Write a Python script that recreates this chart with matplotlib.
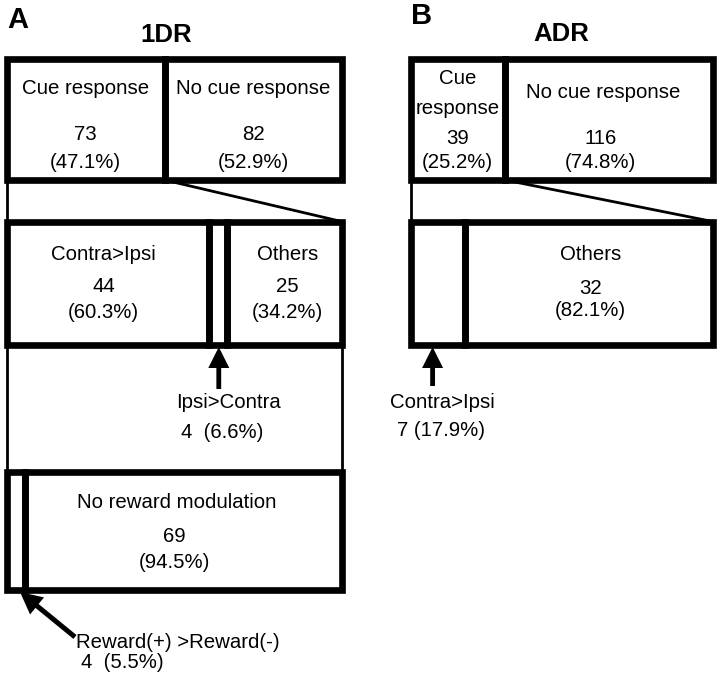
import matplotlib
matplotlib.use("Agg")
import matplotlib.pyplot as plt
from matplotlib.patches import Rectangle, FancyArrow

# ---------------- data ----------------
dr1_cue_labels = ["Cue response", "No cue response"]
dr1_cue_counts = [73, 82]
dr1_cue_pct = ["47.1", "52.9"]

dr1_dir_labels = ["Contra>Ipsi", "Ipsi>Contra", "Others"]
dr1_dir_counts = [44, 4, 25]
dr1_dir_pct = ["60.3", "6.6", "34.2"]

dr1_rew_labels = ["Reward(+) >Reward(-)", "No reward modulation"]
dr1_rew_counts = [4, 69]
dr1_rew_pct = ["5.5", "94.5"]

adr_cue_labels = ["Cue\nresponse", "No cue response"]
adr_cue_counts = [39, 116]
adr_cue_pct = ["25.2", "74.8"]

adr_dir_labels = ["Contra>Ipsi", "Others"]
adr_dir_counts = [7, 32]
adr_dir_pct = ["17.9", "82.1"]

# ---------------- style / layout ----------------
FONT = ["Liberation Sans", "DejaVu Sans"]
FS = 14.7
THICK = 4.8
THIN = 2.0

fig = plt.figure(figsize=(7.2, 6.83), dpi=100)
ax = fig.add_axes([0, 0, 1, 1])
ax.set_xlim(0, 720)
ax.set_ylim(683, 0)
ax.axis("off")


def edges(counts, x0, x1, min_frac=0.0):
    tot = float(sum(counts))
    fr = [c / tot for c in counts]
    if min_frac:
        fr = [max(f, min_frac) for f in fr]
        s = sum(fr)
        big = fr.index(max(fr))
        fr[big] -= (s - 1.0)
    xs = [x0]
    for f in fr:
        xs.append(xs[-1] + f * (x1 - x0))
    return xs


def row(xs, y0, y1):
    for a, b in zip(xs[:-1], xs[1:]):
        ax.add_patch(Rectangle((a, y0), b - a, y1 - y0, fill=False,
                               edgecolor="black", lw=THICK, joinstyle="miter"))


def txt(x, y, s, **kw):
    kw.setdefault("ha", "center")
    kw.setdefault("va", "center")
    ax.text(x, y, s, family=FONT, fontsize=FS, color="black", **kw)


def thin(xs, ys):
    ax.plot(xs, ys, color="black", lw=THIN, solid_capstyle="butt")


def arrow(x0, y0, x1, y1, w=4.8, hw=21, hl=21):
    ax.add_patch(FancyArrow(x0, y0, x1 - x0, y1 - y0, width=w, head_width=hw,
                            head_length=hl, length_includes_head=True,
                            color="black", lw=0))


# ================= Panel A =================
AL, AR = 7.0, 341.5
ax.text(7, 20, "A", family=FONT, fontsize=21, fontweight="bold", va="center", ha="left")
ax.text(166, 35, "1DR", family=FONT, fontsize=18.5, fontweight="bold", va="center", ha="center")

# row 1
y0, y1 = 58.5, 180
xs = edges(dr1_cue_counts, AL, AR)
row(xs, y0, y1)
for i in range(2):
    cx = (xs[i] + xs[i + 1]) / 2
    txt(cx, 88, dr1_cue_labels[i])
    txt(cx, 135, str(dr1_cue_counts[i]))
    txt(cx, 162, "(%s%%)" % dr1_cue_pct[i])

# funnel to row 2
r2y0, r2y1 = 221.5, 345
thin([AL, AL], [y1, r2y0])
thin([xs[1], AR], [y1, r2y0])

# row 2
xs2 = edges(dr1_dir_counts, AL, AR)
row(xs2, r2y0, r2y1)
for i in (0, 2):
    cx = (xs2[i] + xs2[i + 1]) / 2 - (4 if i == 0 else -3)
    txt(cx, 254, dr1_dir_labels[i])
    txt(cx, 287, str(dr1_dir_counts[i]))
    txt(cx, 312, "(%s%%)" % dr1_dir_pct[i])
cx = (xs2[1] + xs2[2]) / 2 + 1
arrow(cx, 389, cx, r2y1 + 2)
txt(176, 402, dr1_dir_labels[1], ha="left")
txt(181, 433, "%d  (%s%%)" % (dr1_dir_counts[1], dr1_dir_pct[1]), ha="left")

# thin frame between row 2 and row 3
r3y0, r3y1 = 471.5, 590
thin([AL, AL], [r2y1, r3y0])
thin([AR, AR], [r2y1, r3y0])

# row 3
xs3 = edges(dr1_rew_counts, AL, AR)
row(xs3, r3y0, r3y1)
cx = (xs3[1] + xs3[2]) / 2 - 7
txt(cx, 503, dr1_rew_labels[1])
txt(cx - 2, 537, str(dr1_rew_counts[1]))
txt(cx - 2, 562, "(%s%%)" % dr1_rew_pct[1])
arrow(75, 637, 20, 592, w=5, hw=22, hl=22)
txt(76, 642, dr1_rew_labels[0], ha="left")
txt(81, 662, "%d  (%s%%)" % (dr1_rew_counts[0], dr1_rew_pct[0]), ha="left")

# ================= Panel B =================
BL, BR = 410.5, 712.5
ax.text(411, 16, "B", family=FONT, fontsize=21, fontweight="bold", va="center", ha="left")
ax.text(561, 34, "ADR", family=FONT, fontsize=18.5, fontweight="bold", va="center", ha="center")

xsb = edges(adr_cue_counts, BL, BR, min_frac=0.313)
row(xsb, y0, y1)
cx = (xsb[0] + xsb[1]) / 2
cue_l1, cue_l2 = adr_cue_labels[0].split("\n")
txt(cx, 78, cue_l1)
txt(cx, 108, cue_l2)
txt(cx, 138, str(adr_cue_counts[0]))
txt(cx, 163, "(%s%%)" % adr_cue_pct[0])
cx = (xsb[1] + xsb[2]) / 2 - 6
txt(cx, 93, adr_cue_labels[1])
txt(cx - 2, 138, str(adr_cue_counts[1]))
txt(cx - 2, 163, "(%s%%)" % adr_cue_pct[1])

thin([BL, BL], [y1, r2y0])
thin([xsb[1], BR], [y1, r2y0])

xsb2 = edges(adr_dir_counts, BL, BR)
row(xsb2, r2y0, r2y1)
cx = (xsb2[1] + xsb2[2]) / 2 + 2
txt(cx, 254, adr_dir_labels[1])
txt(cx, 288, str(adr_dir_counts[1]))
txt(cx, 311, "(%s%%)" % adr_dir_pct[1])
cx = (xsb2[0] + xsb2[1]) / 2 - 5
arrow(cx, 386, cx, r2y1 + 2)
txt(442, 402, adr_dir_labels[0])
txt(441, 430, "%d (%s%%)" % (adr_dir_counts[0], adr_dir_pct[0]))

fig.savefig("out.png", dpi=100, facecolor="white")
